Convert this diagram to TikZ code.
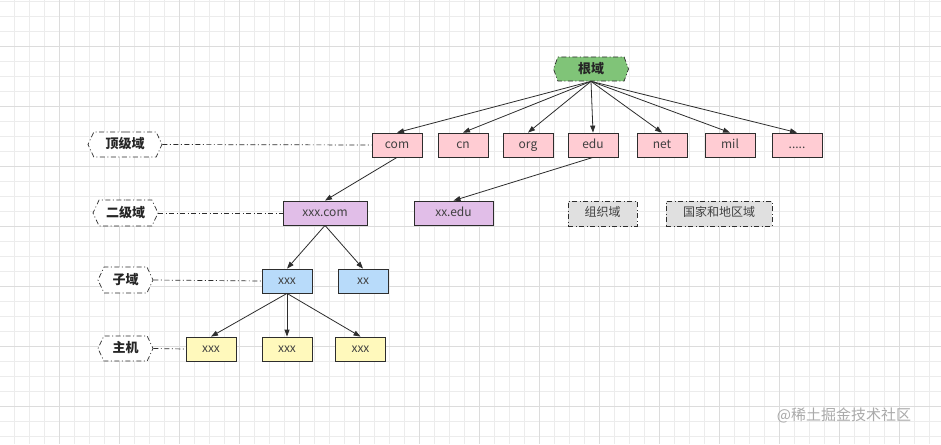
\documentclass[tikz,border=0pt]{standalone}
\usepackage{fontspec}
\setmainfont{Noto Sans CJK SC}
\usetikzlibrary{shapes.symbols,arrows.meta}
\definecolor{gridminor}{RGB}{236,236,236}
\definecolor{gridmajor}{RGB}{220,220,220}
\definecolor{rootgreen}{RGB}{128,196,120}
\definecolor{tlpink}{RGB}{255,204,211}
\definecolor{sldpurple}{RGB}{225,190,232}
\definecolor{subblue}{RGB}{184,219,250}
\definecolor{hostyellow}{RGB}{255,249,188}
\definecolor{grayfill}{RGB}{224,224,224}
\definecolor{edge}{RGB}{45,45,45}
\definecolor{wm}{RGB}{170,170,170}
\tikzset{
  dashdot/.style={dash pattern=on 5pt off 2.5pt on 1pt off 2.5pt},
  box/.style={draw=edge, line width=0.8pt, minimum width=50pt, minimum height=24pt,
    inner sep=0pt, text height=9pt, text depth=3pt,
    font=\fontsize{12}{14}\selectfont, text=black!75},
  hexl/.style={shape=signal, signal to=west and east, signal pointer angle=130,
    draw=edge, line width=0.7pt, dashdot, fill=white, minimum height=25pt, inner sep=0pt,
    text height=10pt, text depth=2pt,
    font=\fontsize{13}{15}\selectfont\bfseries, text=black!85},
  conn/.style={draw=edge, line width=0.8pt, -{Triangle[length=7pt,width=5pt]}},
  guide/.style={draw=edge, line width=0.7pt, dashdot},
}
\begin{document}
\begin{tikzpicture}[x=1pt,y=-1pt]
\useasboundingbox (0,0) rectangle (941,444);
\fill[white] (0,0) rectangle (941,444);
\foreach \x in {14,29,...,940} \draw[gridminor, line width=0.6pt] (\x,0) -- (\x,444);
\foreach \y in {1,16,...,444} \draw[gridminor, line width=0.6pt] (0,\y) -- (941,\y);
\foreach \x in {59,119,...,940} \draw[gridmajor, line width=0.7pt] (\x,0) -- (\x,444);
\foreach \y in {46,106,...,444} \draw[gridmajor, line width=0.7pt] (0,\y) -- (941,\y);

% root
\node[hexl, fill=rootgreen, minimum width=75pt, minimum height=24pt, signal pointer angle=140] (root) at (591,69) {根域};

% top level domains
\node[box, fill=tlpink] (com) at (397,145) {com};
\node[box, fill=tlpink] (cn) at (463,145) {cn};
\node[box, fill=tlpink] (org) at (528,145) {org};
\node[box, fill=tlpink] (edu) at (593,145) {edu};
\node[box, fill=tlpink] (net) at (662,145) {net};
\node[box, fill=tlpink] (mil) at (730,145) {mil};
\node[box, fill=tlpink] (more) at (797,145) {.....};

% second level
\node[box, fill=sldpurple, minimum width=84pt] (xxxcom) at (325,213) {xxx.com};
\node[box, fill=sldpurple, minimum width=79pt] (xxedu) at (453.5,213) {xx.edu};
\node[box, fill=grayfill, dashdot, minimum width=69pt, minimum height=25pt] (orgd) at (602.5,213.5) {组织域};
\node[box, fill=grayfill, dashdot, minimum width=106pt, minimum height=25pt] (country) at (719,213.5) {国家和地区域};

% sub domains
\node[box, fill=subblue] (subxxx) at (287,281) {xxx};
\node[box, fill=subblue] (subxx) at (363,281) {xx};

% hosts
\node[box, fill=hostyellow] (h1) at (211,349) {xxx};
\node[box, fill=hostyellow] (h2) at (287,349) {xxx};
\node[box, fill=hostyellow] (h3) at (360.5,349) {xxx};

% level labels
\node[hexl, minimum width=74pt] (ltld) at (125,144.5) {顶级域};
\node[hexl, minimum width=65pt, minimum height=26pt] (lsld) at (125.5,213) {二级域};
\node[hexl, minimum width=55pt, minimum height=26pt] (lsub) at (125.5,280) {子域};
\node[hexl, minimum width=55pt] (lhost) at (125.5,348.5) {主机};

% guides
\draw[guide] (ltld.east) -- (com.west);
\draw[guide] (lsld.east) -- (xxxcom.west);
\draw[guide] (lsub.east) -- (subxxx.west);
\draw[guide] (lhost.east) -- (h1.west);

% arrows
\foreach \n in {com,cn,org,edu,net,mil,more} \draw[conn] (root.south) -- (\n.north);
\draw[conn] (com.south) -- (xxxcom.north);
\draw[conn] (edu.south) -- (xxedu.north);
\draw[conn] (xxxcom.south) -- (subxxx.north);
\draw[conn] (xxxcom.south) -- (subxx.north);
\draw[conn] (subxxx.south) -- (h1.north);
\draw[conn] (subxxx.south) -- (h2.north);
\draw[conn] (subxxx.south) -- (h3.north);

% watermark
\node[text=wm, font=\fontsize{15}{17}\selectfont, inner sep=0pt] (wmark) at (844,415) {@稀土掘金技术社区};
\end{tikzpicture}
\end{document}
